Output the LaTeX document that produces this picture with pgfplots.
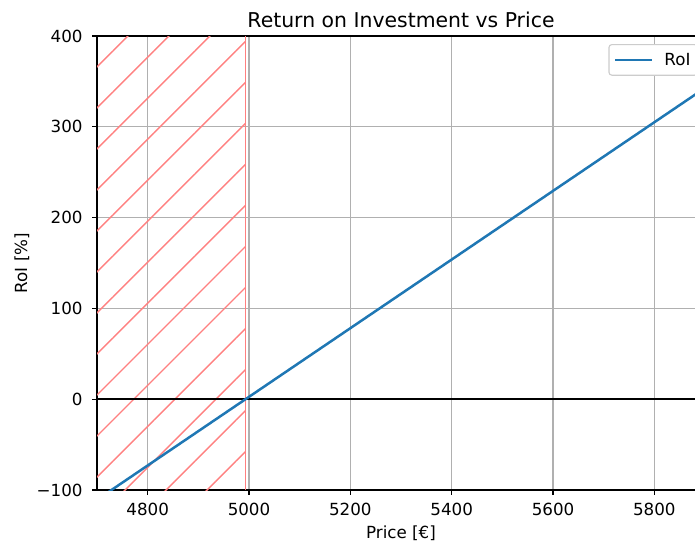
\documentclass[border=0pt]{standalone}
\usepackage{fontspec}
\setmainfont{DejaVu Sans}
\usepackage{pgfplots}
\pgfplotsset{compat=1.18}
\usetikzlibrary{patterns.meta}
\definecolor{mplblue}{HTML}{1F77B4}
\definecolor{hatchred}{HTML}{FF8080}
\definecolor{gridgray}{HTML}{B0B0B0}
\definecolor{legendgray}{HTML}{CCCCCC}
\begin{document}
\begin{tikzpicture}[font=\fontsize{16.7}{20}\selectfont]
\useasboundingbox (0,0) rectangle (695pt,544pt);
\begin{axis}[
  at={(97pt,54pt)}, anchor=south west,
  scale only axis, width=608pt, height=454pt,
  xmin=4700, xmax=5900, ymin=-100, ymax=400,
  xtick={4800,5000,5200,5400,5600,5800},
  xticklabels={4800,5000,5200,5400,5600,5800},
  ytick={-100,0,100,200,300,400},
  yticklabels={−100,0,100,200,300,400},
  tick align=outside,
  major tick length=4.9pt,
  every tick/.style={black, line width=1.1pt},
  axis line style={line width=1.1pt},
  grid=major,
  major grid style={gridgray, line width=1.25pt},
  xtick pos=bottom, ytick pos=left,
  tick label style={font=\fontsize{16.7}{20}\selectfont},
  xticklabel style={anchor=base, inner sep=0pt, yshift=-20.3pt},
  yticklabel style={anchor=east, inner sep=0pt, xshift=-9.3pt},
  xlabel={Price [€]},
  ylabel={RoI [\%]},
  label style={font=\fontsize{16.7}{20}\selectfont},
  xlabel style={at={(axis description cs:0.5,-0.1079)}, anchor=base, inner sep=0pt},
  ylabel style={at={(axis description cs:-0.1151,0.5)}, anchor=base, inner sep=0pt},
  title={Return on Investment vs Price},
  every axis title shift=0pt,
  title style={at={(axis description cs:0.5,1.0183)}, anchor=base, inner sep=0pt, font=\fontsize{20.4}{24}\selectfont},
  legend style={at={(axis description cs:1,1)}, anchor=north east, xshift=-7pt, yshift=-8pt,
    draw=legendgray, rounded corners=3pt, fill=white, line width=1.1pt,
    font=\fontsize{16.7}{20}\selectfont, inner xsep=5pt, inner ysep=6.5pt, column sep=9pt},
  legend cell align=left,
  legend image code/.code={\draw[#1] (0pt,0pt) -- (37pt,0pt);},
]
\addplot[draw=none, pattern={Lines[angle=45,distance=29pt,line width=1.4pt,yshift=11pt]}, pattern color=hatchred, forget plot]
  coordinates {(4700,-100) (4993,-100) (4993,400) (4700,400)} -- cycle;
\addplot[hatchred, line width=1.5pt, forget plot] coordinates {(4993,-100) (4993,400)};
\addplot[black, line width=2.3pt, forget plot] coordinates {(4700,0) (5900,0)};
\addplot[mplblue, line width=2.5pt] coordinates {
  (4700,-110.8) (4800,-73.0) (5000,2.6) (5200,78.2) (5400,153.8) (5600,229.4) (5800,305.0) (5900,342.8)};
\addlegendentry{RoI}
\end{axis}
\end{tikzpicture}
\end{document}
